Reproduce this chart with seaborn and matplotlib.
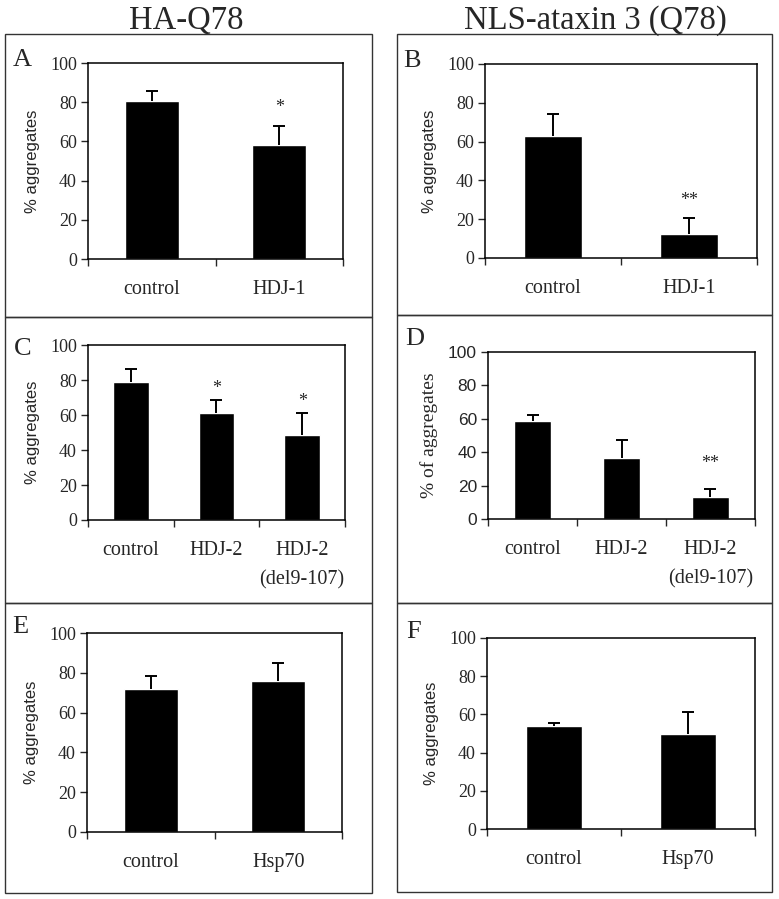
import numpy as np
import matplotlib
matplotlib.use('Agg')
import matplotlib.pyplot as plt
from matplotlib.patches import Rectangle
import seaborn as sns

# Values: mean % aggregates and upper error bar.
cats_a = ['control', 'HDJ-1']
mean_a = [80.5, 58.0]
err_a = [5.0, 10.0]
stars_a = ['', '*']

cats_b = ['control', 'HDJ-1']
mean_b = [63.0, 12.5]
err_b = [11.0, 8.0]
stars_b = ['', '**']

cats_c = ['control', 'HDJ-2', 'HDJ-2\n(del9-107)']
mean_c = [79.0, 61.0, 48.5]
err_c = [7.5, 7.5, 12.5]
stars_c = ['', '*', '*']

cats_d = ['control', 'HDJ-2', 'HDJ-2\n(del9-107)']
mean_d = [58.5, 36.5, 13.0]
err_d = [4.0, 11.0, 5.0]
stars_d = ['', '', '**']

cats_e = ['control', 'Hsp70']
mean_e = [72.0, 76.0]
err_e = [6.5, 9.0]
stars_e = ['', '']

cats_f = ['control', 'Hsp70']
mean_f = [54.0, 49.5]
err_f = [1.5, 11.5]
stars_f = ['', '']

SERIF = 'Liberation Serif'
SANS = 'Liberation Sans'

sns.set_style('white')
plt.rcParams['font.family'] = [SERIF, 'DejaVu Serif']

W, H = 779, 899
fig = plt.figure(figsize=(W / 100, H / 100), dpi=100)


def px_rect(x0, y0, x1, y1):
    # pixel box (top-left origin) -> figure fraction [left, bottom, width, height]
    return [x0 / W, 1 - y1 / H, (x1 - x0) / W, (y1 - y0) / H]


def frame(x0, y0, x1, y1):
    r = px_rect(x0, y0, x1, y1)
    fig.add_artist(Rectangle((r[0], r[1]), r[2], r[3], transform=fig.transFigure,
                             fill=False, edgecolor='#333333', linewidth=1.0))


def bar_panel(box, letter, letter_pos, cats, means, errs, stars, star_pad,
              ylab='% aggregates', ytick_font=SERIF, ylab_font=SANS, ylab_size=12,
              ytick_size=13):
    ax = fig.add_axes(px_rect(*box))
    n = len(cats)
    xs = np.arange(n)
    tops = np.array(means) + np.array(errs)
    sns.barplot(x=cats, y=means, color='black', saturation=1, width=0.42, ax=ax)
    # upper-only error bars: stem plus a cap at the top end
    ax.vlines(xs, means, tops, color='black', linewidth=1.4)
    ax.plot(xs, tops, linestyle='none', marker='_', markersize=8, markeredgewidth=1.4, color='black')
    for i, s in enumerate(stars):
        if s:
            ax.annotate(s, (i, tops[i]), xytext=(0, star_pad), textcoords='offset points',
                        ha='center', va='center', fontsize=13, family=SERIF)
    ax.set_ylim(0, 100)
    ax.set_xlim(-0.5, n - 0.5)
    ax.set_yticks(range(0, 101, 20))
    ax.set_yticklabels([str(v) for v in range(0, 101, 20)], fontsize=ytick_size, family=ytick_font)
    ax.set_xticks(np.arange(n + 1) - 0.5)
    ax.set_xticklabels([''] * (n + 1))
    ax.set_xticks(xs, labels=cats, minor=True)
    for lab in ax.get_xticklabels(minor=True):
        lab.set_fontsize(14.5)
        lab.set_family(SERIF)
        lab.set_linespacing(1.7)
    ax.tick_params(axis='x', which='major', length=5, width=1, direction='out', bottom=True)
    ax.tick_params(axis='x', which='minor', length=0, pad=15, bottom=True)
    ax.tick_params(axis='y', length=5, width=1, direction='out', left=True, pad=3)
    ax.set_xlabel('')
    ax.set_ylabel(ylab, fontsize=ylab_size, family=ylab_font, labelpad=7)
    for sp in ax.spines.values():
        sp.set_visible(True)
        sp.set_color('black')
        sp.set_linewidth(1.1)
    fig.text(letter_pos[0] / W, 1 - letter_pos[1] / H, letter, fontsize=19,
             family=SERIF, ha='left', va='baseline')
    return ax


# panel frames
frame(5, 34, 372, 317)
frame(5, 317, 372, 603)
frame(5, 603, 372, 893)
frame(397, 34, 772, 315)
frame(397, 315, 772, 603)
frame(397, 603, 772, 892)

fig.text(186 / W, 1 - 29 / H, 'HA-Q78', fontsize=23.5, family=SERIF, ha='center', va='baseline')
fig.text(595 / W, 1 - 29 / H, 'NLS-ataxin 3 (Q78)', fontsize=23.5, family=SERIF, ha='center', va='baseline')

bar_panel((88, 63, 343, 259), 'A', (13, 66), cats_a, mean_a, err_a, stars_a, 13)
bar_panel((485, 64, 757, 258), 'B', (403, 67), cats_b, mean_b, err_b, stars_b, 13)
bar_panel((88, 345, 345, 520), 'C', (14, 355), cats_c, mean_c, err_c, stars_c, 8.5)
bar_panel((488, 352, 755, 519), 'D', (405, 345), cats_d, mean_d, err_d, stars_d, 18,
          ylab='% of aggregates', ytick_font=SANS, ylab_font=SERIF, ylab_size=14, ytick_size=12.5)
bar_panel((87, 633, 342, 832), 'E', (12, 633), cats_e, mean_e, err_e, stars_e, 10)
bar_panel((487, 638, 755, 829), 'F', (406, 638), cats_f, mean_f, err_f, stars_f, 10)

fig.savefig('out.png', dpi=100, facecolor='white')
